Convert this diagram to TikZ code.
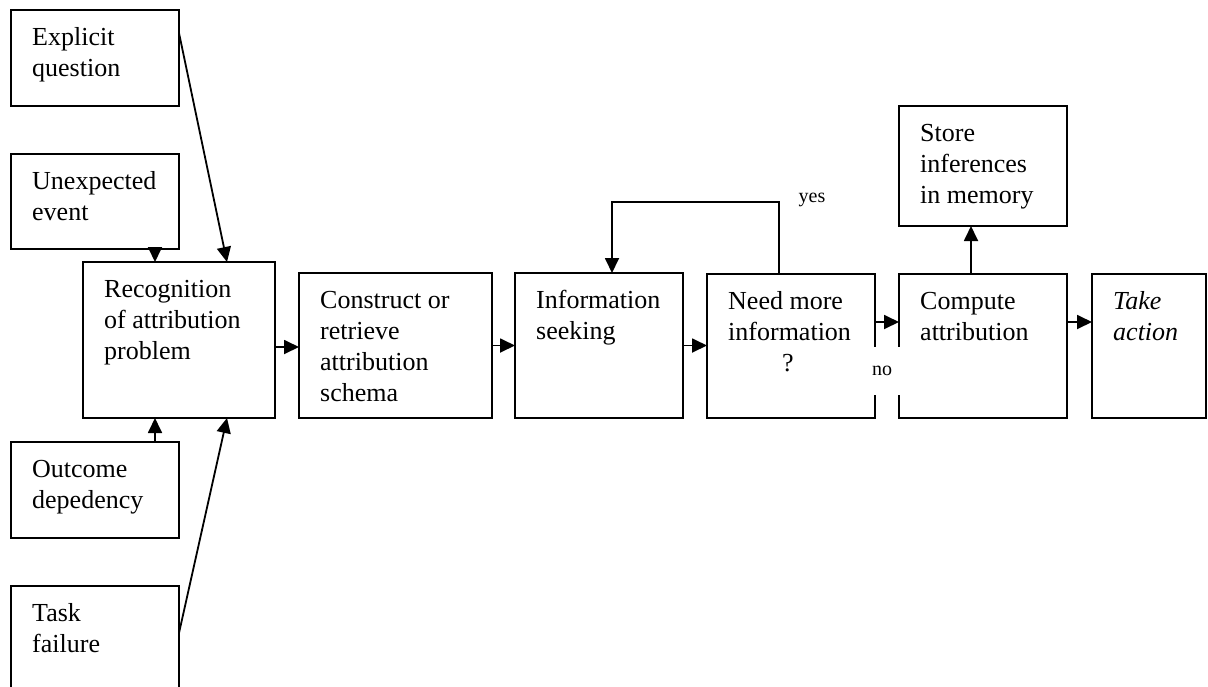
\documentclass[tikz,border=0pt]{standalone}
\usepackage{fontspec}
\setmainfont{Liberation Serif}
\usetikzlibrary{arrows.meta}
% fixed first-line height so every box's text starts at the same depth
\newcommand{\firstline}{\rule{0pt}{20pt}}

\begin{document}
\begin{tikzpicture}[x=1pt,y=-1pt,
  box/.style 2 args={draw, line width=2pt, inner sep=0pt, outer sep=0pt,
    minimum width=#1pt, minimum height=#2pt},
  txt/.style={anchor=north west, inner sep=0pt, align=left,
    xshift=21pt, yshift=-15.5pt, font=\fontsize{26}{31}\selectfont},
  arr/.style={line width=1.8pt, -{Triangle[length=15pt,width=14pt]}},
  lbl/.style={inner sep=0pt, font=\fontsize{20}{22}\selectfont}]

\path[use as bounding box, clip] (0,0) rectangle (1208,686);

% triggers on the left
\node[box={168}{96}, label={[txt]north west:{\firstline Explicit\\question}}] (eq) at (95,58) {};
\node[box={168}{95}, label={[txt]north west:{\firstline Unexpected\\event}}] (ue) at (95,201.5) {};
\node[box={168}{96}, label={[txt]north west:{\firstline Outcome\\depedency}}] (od) at (95,490) {};
\node[box={168}{114}, label={[txt]north west:{\firstline Task\\failure}}] (tf) at (95,643) {};

% main chain
\node[box={192}{156}, label={[txt]north west:{\firstline Recognition\\of attribution\\problem}}] (rec) at (179,340) {};
\node[box={193}{145}, label={[txt]north west:{\firstline Construct or\\retrieve\\attribution\\schema}}] (con) at (395.5,345.5) {};
\node[box={168}{145}, label={[txt]north west:{\firstline Information\\seeking}}] (info) at (599,345.5) {};
\node[box={168}{144}, label={[txt]north west:{\firstline Need more\\information\\\hspace*{54pt}?}}] (need) at (791,346) {};
\node[box={168}{144}, label={[txt]north west:{\firstline Compute\\attribution}}] (comp) at (983,346) {};
\node[box={168}{120}, label={[txt]north west:{\firstline Store\\inferences\\in memory}}] (store) at (983,166) {};
\node[box={114}{144}, label={[txt, font=\fontsize{26}{31}\selectfont\itshape]north west:{\firstline Take\\action}}] (take) at (1149,346) {};

% connectors into the recognition box
\draw[arr] ([yshift=-23pt]eq.north east) -- ([xshift=48pt]rec.north);
\draw[arr] ([xshift=60pt]ue.south) -- ([xshift=-24pt]rec.north);
\draw[arr] ([xshift=60pt]od.north) -- ([xshift=-24pt]rec.south);
\draw[arr] ([yshift=-47pt]tf.north east) -- ([xshift=48pt]rec.south);

% chain connectors
\draw[arr] ([yshift=-7pt]rec.east) -- ([yshift=-7pt]rec.east -| con.west);
\draw[arr] (con.east) -- (con.east -| info.west);
\draw[arr] (info.east) -- (info.east -| need.west);
\draw[arr] ([yshift=24pt]need.east) -- ([yshift=24pt]need.east -| comp.west);
\draw[arr] ([yshift=24pt]comp.east) -- ([yshift=24pt]comp.east -| take.west);
\draw[arr] ([xshift=-12pt]comp.north) -- ([xshift=-12pt]comp.north |- store.south);

% feedback loop
\draw[arr] ([xshift=-12pt]need.north) -- ++(0,72pt) -| ([xshift=13pt]info.north);

% branch labels
\node[lbl] (yes) at (812,200) {yes};
\node[lbl, fill=white, minimum width=30pt, minimum height=48pt] (no) at (886,371) {no\hspace*{8pt}};
\end{tikzpicture}
\end{document}
